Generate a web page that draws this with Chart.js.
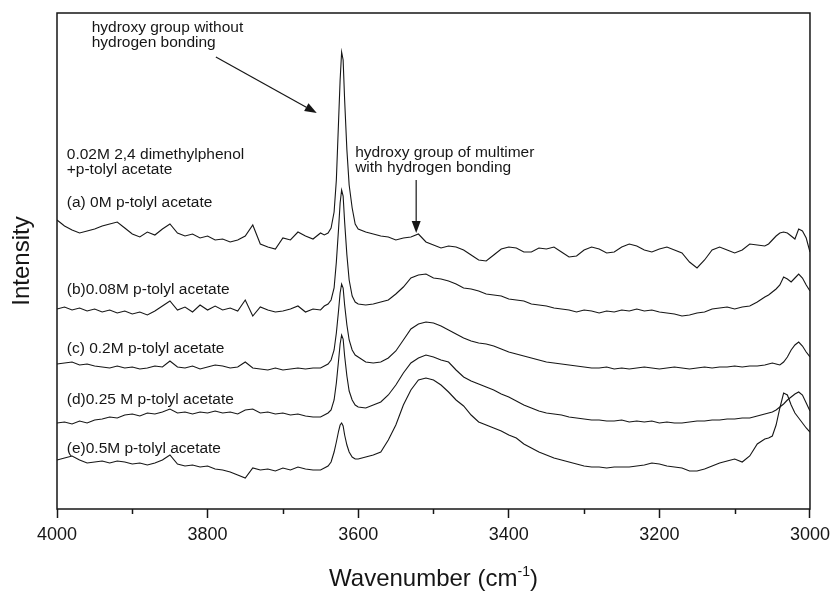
<!DOCTYPE html>
<html>
<head>
<meta charset="utf-8">
<script src="https://cdn.jsdelivr.net/npm/chart.js@4.4.1/dist/chart.umd.min.js"></script>
<style>
  html, body { margin: 0; padding: 0; background: #fff; }
  canvas { display: block; }
</style>
</head>
<body>
<canvas id="irChart" width="836" height="592"></canvas>
<script>
// wavenumber grid (cm-1); denser around the free O-H peak and the C-H bands
const wavenumbers = [
  4000, 3990, 3980, 3970, 3960, 3950, 3940, 3930, 3920, 3910, 3900, 3890, 3880, 3870, 3860, 3850, 3840, 3830, 3820, 3810, 3800, 3790, 3780, 3770, 3760, 3750, 3740, 3730, 3720, 3710, 3700, 3690, 3680, 3670, 3660,
  3650, 3645, 3640, 3636, 3632, 3629, 3626, 3624, 3622, 3620, 3618, 3615, 3612, 3608, 3604, 3600,
  3590, 3580, 3570, 3560, 3550, 3540, 3530, 3520, 3510, 3500, 3490, 3480, 3470, 3460, 3450, 3440, 3430, 3420, 3410, 3400, 3390, 3380, 3370, 3360, 3350, 3340, 3330, 3320, 3310, 3300, 3290, 3280, 3270, 3260, 3250, 3240, 3230, 3220, 3210, 3200, 3190, 3180, 3170, 3160, 3150, 3140, 3130, 3120, 3110, 3100, 3090, 3080, 3070, 3060,
  3055, 3050, 3045, 3040, 3035, 3030, 3025, 3020, 3015, 3010, 3005, 3000
];

// intensities (arbitrary units, curves already offset as in the figure)
const spectrumA = [
  289, 283, 279, 276, 278, 280, 283, 285, 287, 281, 275, 272, 277, 274, 280, 285, 276, 273, 275, 271, 273, 269, 270, 267, 269, 273, 284, 265, 262, 260, 271, 269, 277, 273, 270,
  276, 274, 276, 281, 297, 329, 389, 429, 457, 449, 409, 359, 324, 301, 285, 280,
  277, 275, 273, 272, 269, 271, 272, 275, 267, 264, 261, 263, 262, 259, 254, 249, 248, 254, 260, 262, 261, 257, 257, 261, 260, 262, 257, 252, 253, 259, 262, 260, 256, 257, 262, 265, 263, 259, 257, 260, 262, 259, 256, 247, 241, 249, 259, 262, 259, 256, 259, 265, 264, 263,
  265, 269, 273, 276, 277, 276, 273, 270, 280, 278, 271, 257
];
const spectrumB = [
  200, 202, 199, 201, 198, 200, 197, 199, 196, 198, 195, 197, 194, 198, 203, 208, 199, 202, 197, 204, 199, 203, 199, 201, 198, 209, 193, 202, 199, 197, 198, 200, 203, 197, 200,
  199, 203, 205, 209, 221, 247, 281, 306, 319, 313, 287, 254, 229, 213, 207, 205,
  204, 205, 207, 209, 215, 222, 231, 234, 235, 231, 230, 228, 225, 221, 220, 218, 215, 214, 213, 210, 209, 208, 205, 204, 203, 201, 200, 199, 197, 199, 198, 196, 198, 197, 199, 198, 200, 198, 199, 197, 196, 195, 193, 194, 196, 197, 200, 201, 202, 200, 202, 203, 207, 212,
  214, 217, 220, 224, 232, 230, 227, 231, 235, 231, 224, 218
];
const spectrumC = [
  145, 146, 147, 144, 145, 143, 142, 141, 143, 141, 142, 140, 141, 143, 142, 148, 142, 141, 143, 140, 142, 144, 143, 141, 142, 147, 141, 140, 139, 141, 139, 140, 141, 140, 141,
  141, 143, 145, 149, 159, 176, 199, 216, 225, 221, 204, 184, 169, 159, 154, 152,
  147, 146, 147, 151, 158, 169, 180, 185, 187, 186, 183, 179, 175, 171, 168, 166, 165, 163, 160, 157, 155, 153, 151, 149, 147, 146, 145, 144, 143, 142, 141, 141, 142, 140, 141, 140, 141, 142, 141, 140, 141, 142, 141, 140, 141, 142, 141, 142, 142, 143, 142, 143, 143, 144,
  145, 146, 145, 144, 147, 152, 159, 164, 167, 163, 157, 152
];
const spectrumD = [
  86, 87, 85, 88, 86, 89, 90, 92, 91, 94, 95, 93, 96, 95, 97, 100, 96, 97, 95, 97, 96, 98, 96, 97, 95, 99, 100, 96, 97, 95, 96, 94, 95, 93, 92,
  92, 94, 96, 99, 109, 126, 149, 165, 174, 170, 153, 133, 118, 109, 104, 102,
  101, 104, 107, 114, 124, 136, 146, 151, 154, 152, 149, 147, 139, 132, 128, 125, 122, 119, 115, 112, 108, 104, 101, 98, 96, 95, 94, 92, 91, 90, 89, 89, 88, 88, 89, 87, 88, 87, 88, 86, 87, 86, 86, 87, 88, 88, 89, 89, 90, 90, 91, 91, 93, 95,
  96, 97, 99, 102, 105, 109, 112, 115, 117, 114, 106, 98
];
const spectrumE = [
  49, 51, 53, 49, 46, 47, 48, 46, 48, 47, 45, 46, 44, 46, 49, 54, 45, 43, 44, 42, 43, 40, 39, 37, 34, 31, 41, 39, 40, 38, 41, 39, 42, 40, 39,
  39, 41, 43, 47, 57, 67, 78, 84, 86, 83, 74, 64, 57, 52, 50, 50,
  52, 54, 57, 69, 84, 104, 119, 129, 131, 129, 124, 117, 109, 103, 94, 87, 84, 81, 78, 74, 71, 65, 61, 57, 54, 51, 49, 47, 45, 43, 42, 42, 41, 42, 42, 42, 43, 44, 46, 45, 43, 42, 41, 38, 38, 40, 43, 46, 48, 50, 47, 53, 65, 70,
  71, 73, 84, 101, 116, 114, 104, 96, 91, 86, 81, 77
];

const seriesNames = ['(a) 0M p-tolyl acetate', '(b)0.08M p-tolyl acetate', '(c) 0.2M p-tolyl acetate', '(d)0.25 M p-tolyl acetate', '(e)0.5M p-tolyl acetate'];
const seriesValues = [spectrumA, spectrumB, spectrumC, spectrumD, spectrumE];
const majorTicks = [4000, 3800, 3600, 3400, 3200, 3000];
const minorTicks = [3900, 3700, 3500, 3300, 3100];

// text placed in data coordinates [wavenumber, intensity]
const notes = [
  { text: 'hydroxy group without', at: [3954, 481] },
  { text: 'hydrogen bonding', at: [3954, 466] },
  { text: '0.02M 2,4 dimethylphenol', at: [3987, 354] },
  { text: '+p-tolyl acetate', at: [3987, 339] },
  { text: seriesNames[0], at: [3987, 306] },
  { text: seriesNames[1], at: [3987, 219] },
  { text: seriesNames[2], at: [3987, 160] },
  { text: seriesNames[3], at: [3987, 109] },
  { text: seriesNames[4], at: [3987, 60] },
  { text: 'hydroxy group of multimer', at: [3604, 356] },
  { text: 'with hydrogen bonding', at: [3604, 341] }
];
const arrows = [
  { from: [3789, 452], to: [3655, 396] },
  { from: [3523, 329], to: [3523, 276] }
];

const FONT = '"Liberation Sans", Arial, Helvetica, sans-serif';
const INK = '#161616';

for (const s of seriesValues) {
  if (s.length !== wavenumbers.length) console.warn('length mismatch', s.length, wavenumbers.length);
}

const spectrumDecor = {
    id: 'spectrumDecor',
    afterDraw(chart) {
        const { ctx, chartArea: area, scales } = chart;
        const xs = scales.x;
        const ys = scales.y;
        ctx.save();

        ctx.strokeStyle = INK;
        ctx.lineWidth = 1.5;
        ctx.strokeRect(area.left, area.top, area.right - area.left, area.bottom - area.top);

        minorTicks.forEach((v) => {
            const px = Math.round(xs.getPixelForValue(v)) + 0.5;
            ctx.beginPath();
            ctx.moveTo(px, area.bottom);
            ctx.lineTo(px, area.bottom + 5);
            ctx.stroke();
        });

        ctx.fillStyle = INK;
        ctx.font = `15.5px ${FONT}`;
        ctx.textBaseline = 'middle';
        ctx.textAlign = 'left';
        notes.forEach((n) => {
            ctx.fillText(n.text, xs.getPixelForValue(n.at[0]), ys.getPixelForValue(n.at[1]));
        });

        ctx.lineWidth = 1.2;
        arrows.forEach((a) => {
            const x1 = xs.getPixelForValue(a.from[0]);
            const y1 = ys.getPixelForValue(a.from[1]);
            const x2 = xs.getPixelForValue(a.to[0]);
            const y2 = ys.getPixelForValue(a.to[1]);
            const ang = Math.atan2(y2 - y1, x2 - x1);
            const head = 12;
            const half = 4.5;
            const bx = x2 - head * Math.cos(ang);
            const by = y2 - head * Math.sin(ang);
            ctx.beginPath();
            ctx.moveTo(x1, y1);
            ctx.lineTo(bx, by);
            ctx.stroke();
            ctx.beginPath();
            ctx.moveTo(x2, y2);
            ctx.lineTo(bx + half * Math.sin(ang), by - half * Math.cos(ang));
            ctx.lineTo(bx - half * Math.sin(ang), by + half * Math.cos(ang));
            ctx.closePath();
            ctx.fill();
        });

        // axis titles
        const midY = (area.top + area.bottom) / 2;
        ctx.save();
        ctx.translate(22, midY);
        ctx.rotate(-Math.PI / 2);
        ctx.font = `24px ${FONT}`;
        ctx.textAlign = 'center';
        ctx.textBaseline = 'middle';
        ctx.fillText('Intensity', 0, 0);
        ctx.restore();

        const midX = (area.left + area.right) / 2;
        const bigFont = `24px ${FONT}`;
        const smallFont = `14px ${FONT}`;
        ctx.textAlign = 'left';
        ctx.textBaseline = 'alphabetic';
        ctx.font = bigFont;
        const w1 = ctx.measureText('Wavenumber (cm').width;
        const w3 = ctx.measureText(')').width;
        ctx.font = smallFont;
        const w2 = ctx.measureText('-1').width;
        let tx = midX - (w1 + w2 + w3) / 2;
        const base = 586;
        ctx.font = bigFont;
        ctx.fillText('Wavenumber (cm', tx, base);
        tx += w1;
        ctx.font = smallFont;
        ctx.fillText('-1', tx, base - 10);
        tx += w2;
        ctx.font = bigFont;
        ctx.fillText(')', tx, base);

        ctx.restore();
    }
};

const datasets = seriesValues.map((values, i) => ({
    label: seriesNames[i],
    data: wavenumbers.map((w, j) => ({ x: w, y: values[j] })),
    borderColor: INK,
    borderWidth: 1.1,
    pointRadius: 0,
    tension: 0,
    fill: false
}));

new Chart(document.getElementById('irChart'), {
    type: 'line',
    data: { datasets },
    options: {
        responsive: false,
        animation: false,
        layout: { padding: { left: 57, right: 22, top: 13, bottom: 0 } },
        plugins: {
            legend: { display: false },
            tooltip: { enabled: false }
        },
        scales: {
            x: {
                type: 'linear',
                min: 3000,
                max: 4000,
                reverse: true,
                afterFit: (scale) => { scale.height = 83; },
                border: { display: false },
                grid: {
                    drawOnChartArea: false,
                    drawTicks: true,
                    tickLength: 9,
                    tickWidth: 1.5,
                    tickColor: (c) => (c.tick && majorTicks.includes(c.tick.value) ? INK : 'rgba(0,0,0,0)')
                },
                ticks: {
                    stepSize: 100,
                    autoSkip: false,
                    maxRotation: 0,
                    padding: 6,
                    color: INK,
                    font: { family: FONT, size: 18 },
                    callback: (v) => (majorTicks.includes(v) ? String(v) : '')
                }
            },
            y: {
                display: false,
                min: 0,
                max: 496
            }
        }
    },
    plugins: [spectrumDecor]
});
</script>
</body>
</html>
